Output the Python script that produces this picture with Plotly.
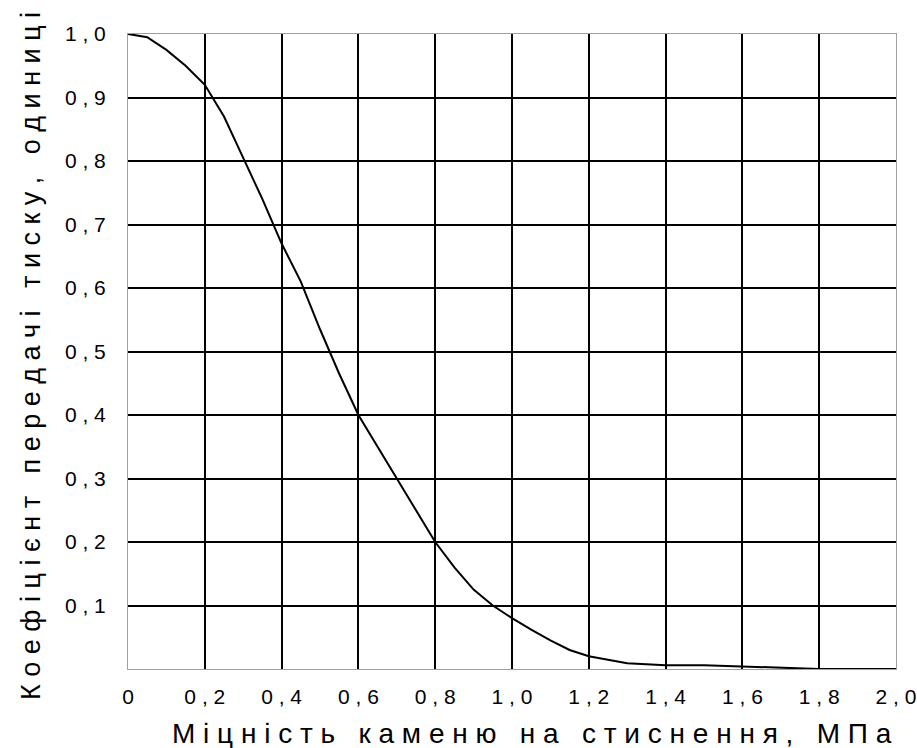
import plotly.graph_objects as go

# Compressive strength of stone, MPa
strength = [0, 0.05, 0.1, 0.15, 0.2, 0.25, 0.3, 0.35, 0.4, 0.45, 0.5, 0.55, 0.6,
            0.65, 0.7, 0.75, 0.8, 0.85, 0.9, 0.95, 1.0, 1.05, 1.1, 1.15, 1.2,
            1.3, 1.4, 1.5, 1.6, 1.7, 1.8, 1.9, 2.0]
# Pressure transfer coefficient, units
coefficient = [1.0, 0.995, 0.975, 0.95, 0.92, 0.87, 0.805, 0.74, 0.67, 0.61, 0.535,
               0.465, 0.40, 0.35, 0.30, 0.25, 0.20, 0.16, 0.125, 0.10, 0.08,
               0.062, 0.045, 0.03, 0.02, 0.009, 0.006, 0.006, 0.004, 0.002,
               0.0, 0.0, 0.0]

x_ticks = [0, 0.2, 0.4, 0.6, 0.8, 1.0, 1.2, 1.4, 1.6, 1.8, 2.0]
x_labels = ["0", "0,2", "0,4", "0,6", "0,8", "1,0", "1,2", "1,4", "1,6", "1,8", "2,0"]
y_ticks = [0.1, 0.2, 0.3, 0.4, 0.5, 0.6, 0.7, 0.8, 0.9, 1.0]
y_labels = ["0,1", "0,2", "0,3", "0,4", "0,5", "0,6", "0,7", "0,8", "0,9", "1,0"]

x_title = "Міцність каменю на стиснення, МПа"
y_title = "Коефіцієнт передачі тиску, одиниці"


def spaced(text, gap=" "):
    """Spread characters apart; widen the gaps between words."""
    words = text.split(" ")
    return (gap + "\u00a0" + gap).join(gap.join(w) for w in words)


FONT = "Arial, Liberation Sans, sans-serif"
W, H = 917, 748
L, R, T, B = 128, 21, 34, 79
plot_w, plot_h = W - L - R, H - T - B

fig = go.Figure()
fig.add_trace(go.Scatter(
    x=strength, y=coefficient, mode="lines",
    line=dict(color="black", width=2),
    showlegend=False, hoverinfo="skip",
))

axis_common = dict(
    tickmode="array", ticks="", automargin=False,
    tickfont=dict(size=21, family=FONT),
    showgrid=True, gridcolor="black", gridwidth=2,
    zeroline=False, showline=True, linecolor="#a0a0a0", linewidth=1,
    mirror=True,
)

fig.update_layout(
    width=W, height=H,
    margin=dict(l=L, r=R, t=T, b=B),
    paper_bgcolor="white", plot_bgcolor="white",
    font=dict(family=FONT, color="black"),
    xaxis=dict(range=[0, 2.0], tickvals=x_ticks,
               ticktext=[spaced(t) for t in x_labels],
               ticklabelstandoff=9, **axis_common),
    yaxis=dict(range=[0, 1.0], tickvals=y_ticks,
               ticktext=[spaced(t) for t in y_labels],
               ticklabelstandoff=17, **axis_common),
    annotations=[
        dict(text=spaced(x_title), xref="paper", yref="paper",
             x=(532 - L) / plot_w, y=(H - B - 733) / plot_h,
             xanchor="center", yanchor="middle", showarrow=False,
             font=dict(size=28, family=FONT)),
        dict(text=spaced(y_title), xref="paper", yref="paper",
             x=(31 - L) / plot_w, y=(H - B - 356) / plot_h,
             xanchor="center", yanchor="middle", showarrow=False,
             textangle=-90, font=dict(size=27, family=FONT)),
    ],
)

fig.write_html("out.html")
